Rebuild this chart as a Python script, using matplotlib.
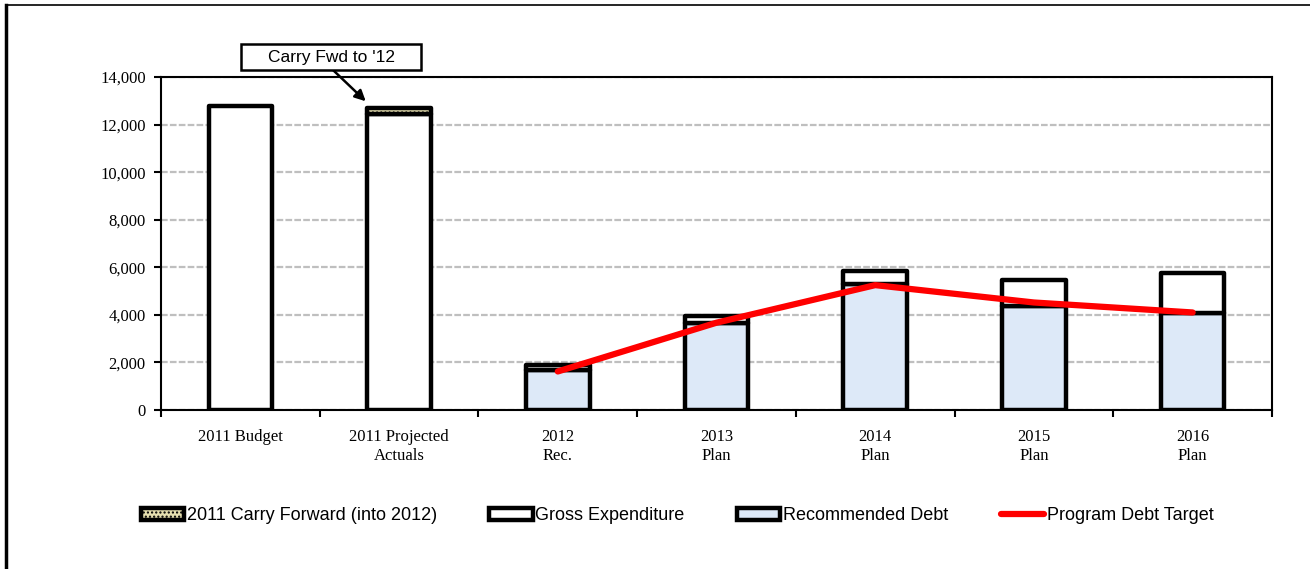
import matplotlib
matplotlib.use("Agg")
import matplotlib.pyplot as plt
from matplotlib.lines import Line2D
from matplotlib.patches import Rectangle
import numpy as np

categories = ["2011 Budget", "2011 Projected\nActuals", "2012\nRec.", "2013\nPlan",
              "2014\nPlan", "2015\nPlan", "2016\nPlan"]
carry_forward = [0, 250, 0, 0, 0, 0, 0]
gross_expenditure = [12800, 12450, 1890, 3950, 5850, 5480, 5760]
recommended_debt = [0, 0, 1700, 3650, 5300, 4380, 4070]
debt_target_x = [2, 3, 4, 5, 6]
debt_target = [1620, 3670, 5250, 4520, 4100]
yticks = [0, 2000, 4000, 6000, 8000, 10000, 12000, 14000]

W, H = 1310, 569
fig = plt.figure(figsize=(W / 100, H / 100), dpi=100)
ax = fig.add_axes([161/W, 1-410/H, (1272-161)/W, (410-77)/H])

x = np.arange(len(categories))
w = 0.4
debt = np.array(recommended_debt)
gross = np.array(gross_expenditure)
cf = np.array(carry_forward)
remainder = gross - debt

edge = dict(edgecolor="black", linewidth=3.2, joinstyle="round")
b_debt = ax.bar(x, debt, w, color="#dde9f8", zorder=3, **edge)
b_gross = ax.bar(x, remainder, w, bottom=debt, color="white", zorder=3, **edge)
b_cf = ax.bar(x, cf, w, bottom=gross, color="#e6dfb0", hatch="....", zorder=3, **edge)
for b, v in zip(b_debt, debt):
    if v == 0:
        b.set_visible(False)
for b, v in zip(b_cf, cf):
    if v == 0:
        b.set_visible(False)

ln, = ax.plot(debt_target_x, debt_target, color="#ff0000", linewidth=4.5,
              solid_capstyle="round", zorder=4)

ax.set_xlim(-0.5, len(categories) - 0.5)
ax.set_ylim(0, 14000)
ax.set_yticks(yticks)
ax.set_yticklabels([f"{v:,}" for v in yticks], fontfamily="Liberation Serif", fontsize=12)
ax.yaxis.grid(True, color="#bfbfbf", linestyle=(0, (3, 1)), linewidth=1.6, zorder=0)
ax.set_axisbelow(True)
ax.set_xticks(x)
ax.set_xticklabels(categories, fontfamily="Liberation Serif", fontsize=12)
ax.set_xticks(np.arange(len(categories) + 1) - 0.5, minor=True)
ax.tick_params(axis="x", which="major", length=0, pad=14)
ax.tick_params(axis="x", which="minor", length=5, width=1.5, direction="out")
ax.tick_params(axis="y", length=5, width=1.5, direction="out", pad=6)
for s in ax.spines.values():
    s.set_linewidth(1.5)

# annotation box with arrow (figure pixel positions of the callout)
fig.add_artist(Rectangle((241/W, 1-70/H), 180/W, 26/H, transform=fig.transFigure,
                         facecolor="white", edgecolor="black", linewidth=1.8, zorder=5))
fig.text(331/W, 1-57.5/H, "Carry Fwd to '12", ha="center", va="center",
         fontfamily="Liberation Sans", fontsize=12.5, zorder=6)
ax.annotate("", xy=(0.79, 12980), xycoords="data",
            xytext=(333/W, 1-70/H), textcoords="figure fraction",
            arrowprops=dict(arrowstyle="-|>", color="black", lw=1.8, mutation_scale=16,
                            shrinkA=0, shrinkB=0),
            annotation_clip=False, zorder=5)

handles = [b_cf[1], b_gross[0], b_debt[2], ln]
labels = ["2011 Carry Forward (into 2012)", "Gross Expenditure", "Recommended Debt",
          "Program Debt Target"]
leg = fig.legend(handles, labels, loc="center", bbox_to_anchor=(677/W, 1-516/H),
                 ncol=4, frameon=False, handlelength=2.4, handleheight=0.6,
                 handletextpad=0.15, columnspacing=2.9,
                 prop={"family": "Liberation Sans", "size": 13})

# outer frame (partially visible)
fig.add_artist(Line2D([6/W, 6/W], [0, 1-5/H], transform=fig.transFigure,
                      color="black", linewidth=2.5))
fig.add_artist(Line2D([6/W, 1], [1-5/H, 1-5/H], transform=fig.transFigure,
                      color="black", linewidth=1.2))

fig.savefig("out.png", dpi=100)
